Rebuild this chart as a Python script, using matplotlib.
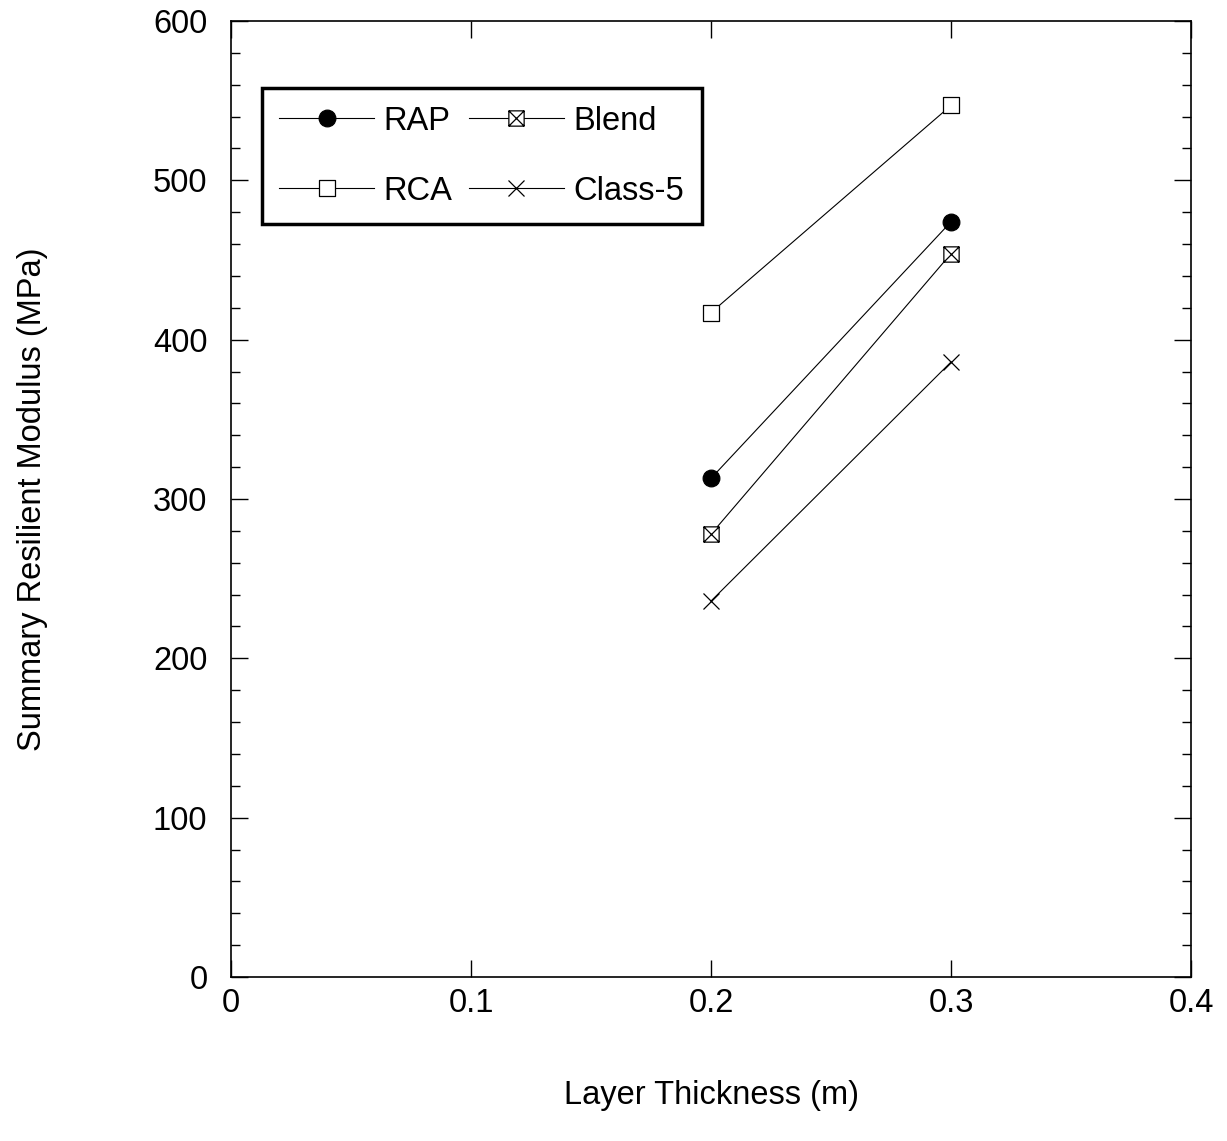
import matplotlib
matplotlib.use('Agg')
import matplotlib.pyplot as plt
from matplotlib.path import Path
from matplotlib.ticker import MultipleLocator

plt.rcParams['font.family'] = ['Liberation Sans', 'DejaVu Sans']

thickness = [0.2, 0.3]
rap = [313, 474]
blend = [278, 454]
rca = [417, 547]
class5 = [236, 386]

# square with both diagonals, for the Blend series
boxx = Path([(-1, -1), (1, -1), (1, 1), (-1, 1), (-1, -1),
             (-1, -1), (1, 1), (-1, 1), (1, -1)],
            [Path.MOVETO, Path.LINETO, Path.LINETO, Path.LINETO, Path.CLOSEPOLY,
             Path.MOVETO, Path.LINETO, Path.MOVETO, Path.LINETO])
box = Path([(-1, -1), (1, -1), (1, 1), (-1, 1), (-1, -1)],
           [Path.MOVETO, Path.LINETO, Path.LINETO, Path.LINETO, Path.CLOSEPOLY])

fig = plt.figure(figsize=(12.27, 11.41), dpi=100)
ax = fig.add_axes([0.1883, 0.1437, 0.7824, 0.8379])

kw = dict(color='black', lw=0.8, mec='black', mew=0.9)
ax.plot(thickness, rap, marker='o', ms=12, mfc='black', label='RAP', **kw)
ax.plot(thickness, rca, marker=box, ms=11, mfc='white', label='RCA', **kw)
ax.plot(thickness, blend, marker=boxx, ms=11, mfc='white', label='Blend', **kw)
ax.plot(thickness, class5, marker='x', ms=12, label='Class-5', **kw)

ax.set_xlim(0, 0.4)
ax.set_ylim(0, 600)
ax.xaxis.set_major_locator(MultipleLocator(0.1))
ax.yaxis.set_major_locator(MultipleLocator(100))
ax.yaxis.set_minor_locator(MultipleLocator(20))
ax.set_xticks([0, 0.1, 0.2, 0.3, 0.4], ['0', '0.1', '0.2', '0.3', '0.4'])

ax.tick_params(which='both', direction='in', top=True, right=True, labelsize=23.5)
ax.tick_params(axis='x', pad=8)
ax.tick_params(axis='y', pad=17)
ax.tick_params(which='major', length=12, width=1)
ax.tick_params(which='minor', length=6.5, width=1)
for s in ax.spines.values():
    s.set_linewidth(1.2)

ax.set_xlabel('Layer Thickness (m)', fontsize=23.5, va='center')
ax.set_ylabel('Summary Resilient Modulus (MPa)', fontsize=23.5, va='center')
ax.xaxis.set_label_coords(0.5, -0.1234)
ax.yaxis.set_label_coords(-0.207, 0.5)

h, l = ax.get_legend_handles_labels()
leg = ax.legend(h, l, ncol=2, loc='upper left',
                bbox_to_anchor=(0.032, 0.93), fontsize=23.5, numpoints=1,
                handlelength=2.9, handletextpad=0.3, columnspacing=0.5,
                labelspacing=1.2, borderpad=0.54, borderaxespad=0,
                fancybox=False, frameon=True, framealpha=1)
leg.get_frame().set_edgecolor('black')
leg.get_frame().set_linewidth(2.5)

plt.savefig('out.png', dpi=100)
